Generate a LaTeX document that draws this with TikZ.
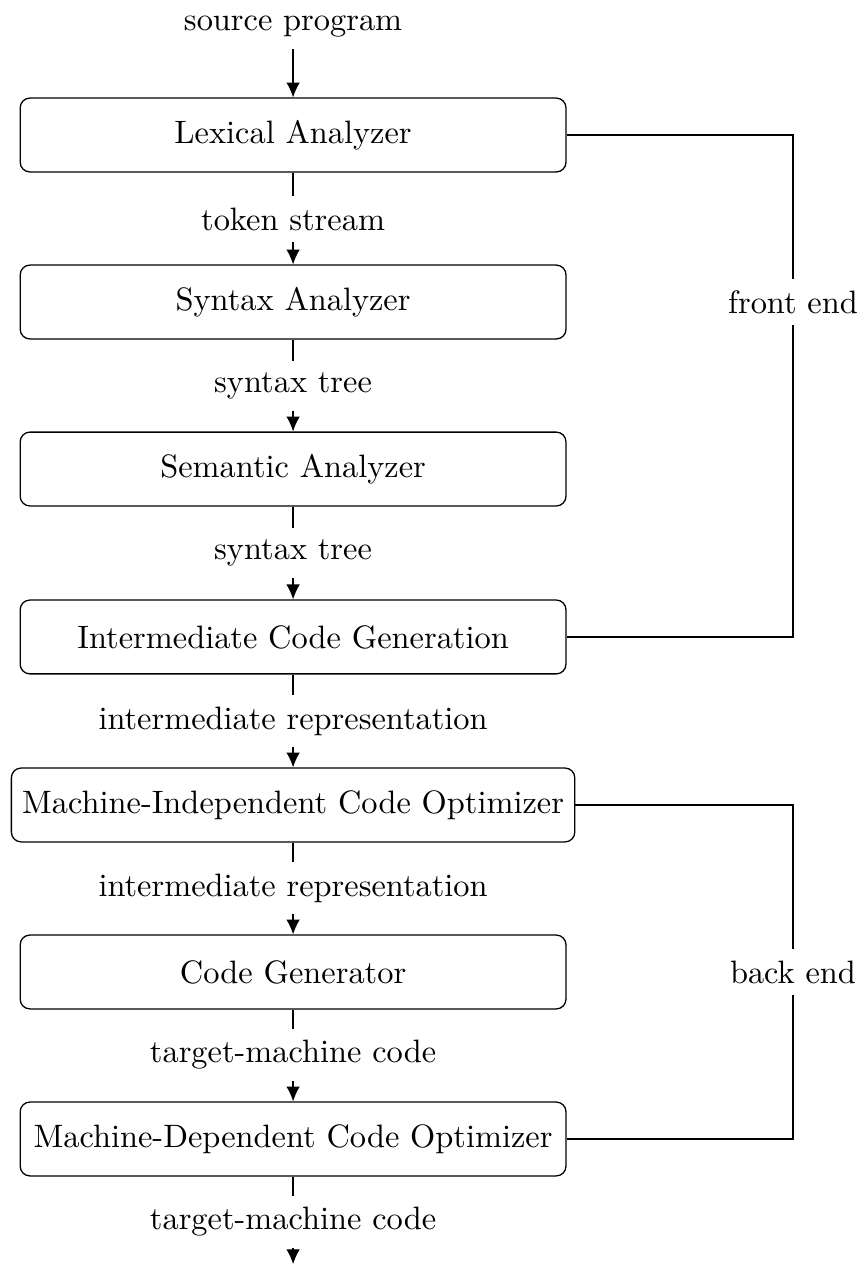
\documentclass[tikz,border=0pt]{standalone}
\usepackage{tikz}
\usetikzlibrary{arrows.meta}

\tikzset{
    stage/.style={draw, rounded corners=3pt, minimum width=168.5pt, minimum height=22.8pt},
    flow/.style={-{Latex[length=4.6pt,width=4.2pt]}}
}

\begin{document}
\begin{tikzpicture}
    \useasboundingbox (0,0) rectangle (9.31,13.736);
    % phases
    \node[stage] (lex)  at (3.18,12.271) {Lexical Analyzer};
    \node[stage] (syn)  at (3.18,10.459) {Syntax Analyzer};
    \node[stage] (sem)  at (3.18,8.647) {Semantic Analyzer};
    \node[stage] (icg)  at (3.18,6.825) {Intermediate Code Generation};
    \node[stage] (mio)  at (3.18,5.002) {Machine-Independent Code Optimizer};
    \node[stage] (cgen) at (3.18,3.190) {Code Generator};
    \node[stage] (mdo)  at (3.18,1.378) {Machine-Dependent Code Optimizer};
    % what flows between them
    \node (src)   at (3.18,13.443) {source program};
    \node (tok)   at (3.18,11.36) {token stream};
    \node (tree1) at (3.18,9.548) {syntax tree};
    \node (tree2) at (3.18,7.736) {syntax tree};
    \node (ir1)   at (3.18,5.913) {intermediate representation};
    \node (ir2)   at (3.18,4.101) {intermediate representation};
    \node (tmc1)  at (3.18,2.289) {target-machine code};
    \node (tmc2)  at (3.18,0.477) {target-machine code};
    \coordinate (out) at (3.18,0.02);
    \draw[flow] (src) -- (lex);
    \draw (lex) -- (tok);
    \draw[flow] (tok) -- (syn);
    \draw (syn) -- (tree1);
    \draw[flow] (tree1) -- (sem);
    \draw (sem) -- (tree2);
    \draw[flow] (tree2) -- (icg);
    \draw (icg) -- (ir1);
    \draw[flow] (ir1) -- (mio);
    \draw (mio) -- (ir2);
    \draw[flow] (ir2) -- (cgen);
    \draw (cgen) -- (tmc1);
    \draw[flow] (tmc1) -- (mdo);
    \draw (mdo) -- (tmc2);
    \draw[flow] (tmc2) -- (out);
    % front end / back end
    \node (front) at (8.604,10.459) {front end};
    \node (back)  at (8.604,3.190) {back end};
    \draw (lex.east) -| (front);
    \draw (front) |- (icg.east);
    \draw (mio.east) -| (back);
    \draw (back) |- (mdo.east);
\end{tikzpicture}
\end{document}
